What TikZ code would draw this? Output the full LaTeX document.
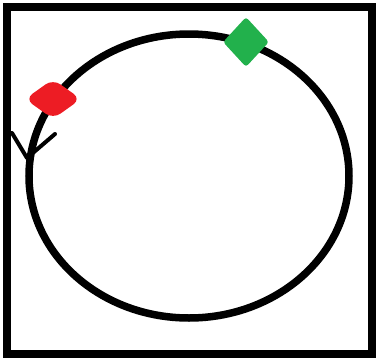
\documentclass[tikz,border=0pt]{standalone}
\usetikzlibrary{shapes.geometric}

\begin{document}
\begin{tikzpicture}[
      x=1pt, y=-1pt,
      ring/.style={draw, line width=7.5pt},
      frame/.style={draw, line width=8pt},
      barb/.style={draw, line width=4pt, line cap=round, line join=round},
      marker/.style={shape=diamond, inner sep=0pt, draw=none}
    ]
    \useasboundingbox (0,0) rectangle (376,360);
    \draw[frame] (7,7) rectangle (372,354);
    \draw[ring] (189,176) ellipse [x radius=160pt, y radius=142pt];
    \coordinate (tip)   at (27,158);
    \coordinate (barbl) at (12,133);
    \coordinate (barbr) at (55,134);
    \draw[barb] (barbl) -- (tip) -- (barbr);
    \node[marker, fill={rgb,255:red,237;green,28;blue,36}, minimum width=56pt,
          minimum height=40pt, rounded corners=9pt] (src) at (53,99) {};
    \node[marker, fill={rgb,255:red,34;green,177;blue,76}, minimum width=46pt,
          minimum height=50pt, rounded corners=3pt] (dst) at (246,42) {};
  \end{tikzpicture}
\end{document}
